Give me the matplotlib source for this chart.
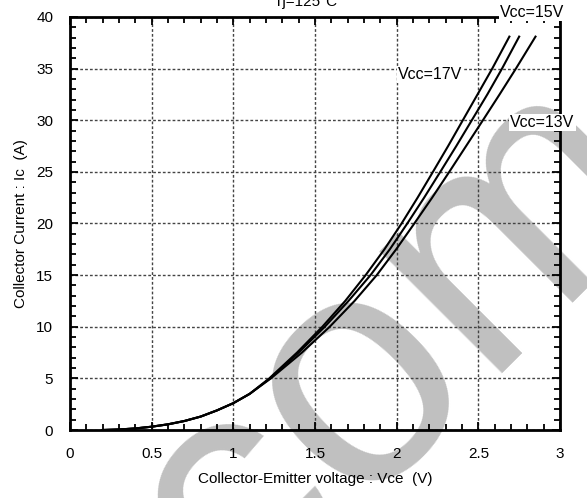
import matplotlib as mpl
mpl.use('Agg')
import matplotlib.pyplot as plt
from matplotlib.ticker import MultipleLocator

plt.rcParams['font.family'] = ['Liberation Sans', 'DejaVu Sans']

# data (Vce in V, Ic in A)
ic = [0.0, 0.05, 0.15, 0.32, 0.55, 0.87, 1.3, 1.9, 2.6, 3.5, 5.0, 7.5, 10.0, 12.5, 15.0, 17.5, 20.0, 22.5, 25.0, 27.5, 30.0, 32.5, 35.0, 38.1]
vce_17 = [0.2, 0.3, 0.4, 0.5, 0.6, 0.7, 0.8, 0.9, 1.0, 1.1, 1.22, 1.39, 1.545, 1.685, 1.81, 1.925, 2.03, 2.128, 2.222, 2.315, 2.405, 2.495, 2.585, 2.69]
vce_15 = [0.2, 0.3, 0.4, 0.5, 0.6, 0.7, 0.8, 0.9, 1.0, 1.1, 1.225, 1.40, 1.56, 1.705, 1.84, 1.958, 2.065, 2.168, 2.267, 2.365, 2.46, 2.555, 2.645, 2.75]
vce_13 = [0.2, 0.3, 0.4, 0.5, 0.6, 0.7, 0.8, 0.9, 1.0, 1.1, 1.23, 1.42, 1.59, 1.742, 1.878, 1.997, 2.108, 2.217, 2.322, 2.425, 2.528, 2.63, 2.73, 2.85]

fig = plt.figure(figsize=(5.87, 4.98), dpi=100)
ax = fig.add_axes([70/587, 1-430/498, 490/587, 413/498])
ax.patch.set_alpha(0)

# watermark behind everything
fig.text(397/587, 1-345/498, 'com', fontsize=235, color='#c0c0c0', rotation=45,
         ha='center', va='center', rotation_mode='anchor', zorder=-5)

for xs in [vce_17, vce_15, vce_13]:
    ax.plot(xs, ic, color='black', lw=1.5, zorder=3)

ax.set_xlim(0, 3)
ax.set_ylim(0, 40)
ax.xaxis.set_minor_locator(MultipleLocator(0.1))
ax.yaxis.set_major_locator(MultipleLocator(5))
ax.yaxis.set_minor_locator(MultipleLocator(1))
ax.set_xticks([0, 0.5, 1, 1.5, 2, 2.5, 3])
ax.set_xticklabels(['0', '0.5', '1', '1.5', '2', '2.5', '3'])
ax.tick_params(which='both', direction='in', top=True, right=True, width=1.3, labelsize=11, pad=12)
ax.tick_params(which='major', length=6)
ax.tick_params(which='minor', length=4)
for s in ax.spines.values():
    s.set_linewidth(2)
ax.grid(True, which='major', color='#444444', lw=1, linestyle=(0, (2, 1.5)))

ax.set_xlabel('Collector-Emitter voltage : Vce  (V)', fontsize=11, labelpad=8)
ax.set_ylabel('Collector Current : Ic  (A)', fontsize=11, labelpad=6)

fig.text(306/587, 1-6/498, 'Tj=125°C', fontsize=11, ha='center', va='baseline')

box = dict(facecolor='white', edgecolor='none', pad=1)
fig.text(500/587, 1-17/498, 'Vcc=15V', fontsize=11.5, ha='left', va='baseline', bbox=box, zorder=10)
fig.text(398/587, 1-79/498, 'Vcc=17V', fontsize=11.5, ha='left', va='baseline', bbox=box, zorder=10)
fig.text(510/587, 1-127/498, 'Vcc=13V', fontsize=11.5, ha='left', va='baseline', bbox=box, zorder=10)

fig.savefig('out.png', dpi=100)
